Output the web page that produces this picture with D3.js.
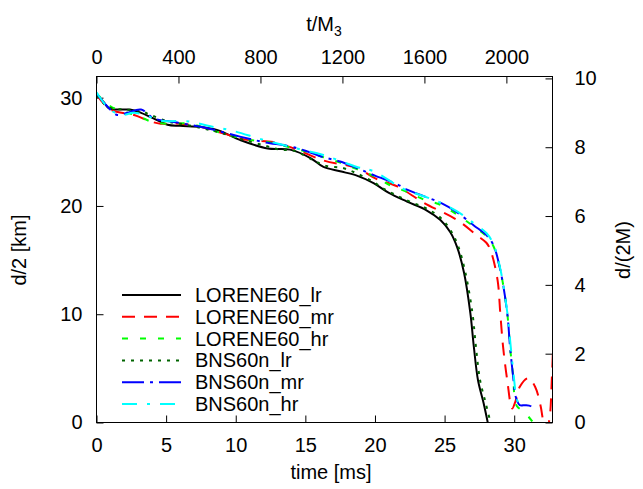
<!DOCTYPE html>
<html><head><meta charset="utf-8">
<script src="https://cdn.jsdelivr.net/npm/d3@7"></script>
<style>
html,body{margin:0;padding:0;background:#fff;}
text{font-family:"Liberation Sans",Arial,sans-serif;font-size:20px;fill:#000;}
</style></head>
<body>
<svg id="chart" width="643" height="489"></svg>
<script>
// ---- data (time [ms], d/2 [km]) ----
const seriesNames = ["LORENE60_lr","LORENE60_mr","LORENE60_hr","BNS60n_lr","BNS60n_mr","BNS60n_hr"];
const lorene60_lr = [[0,30.3],[0.5,29.6],[0.9,29.0],[1.5,28.9],[2.4,28.9],[3.2,28.6],[3.9,28.2],[5.1,27.5],[6.0,27.4],[7.5,27.3],[8.7,27.0],[10.3,26.1],[12.3,25.3],[13.9,25.2],[15.4,24.4],[16.3,23.6],[17.5,23.2],[18.7,22.8],[19.9,22.1],[21.0,21.2],[22.3,20.4],[23.7,19.6],[24.7,18.7],[25.4,17.6],[25.9,16.2],[26.4,13.8],[26.85,10.1],[27.1,7.0],[27.4,3.9],[27.8,1.8],[28.1,0]];
const lorene60_mr = [[0,30.3],[1.0,28.9],[2.7,28.4],[3.9,27.8],[4.6,27.6],[6.0,27.6],[7.5,27.3],[9.1,26.7],[10.8,26.1],[12.7,25.9],[14.2,25.3],[16.3,24.2],[18.7,23.5],[20.1,22.5],[21.6,21.8],[23.5,20.3],[25.9,18.7],[27.3,17.3],[28.0,16.6],[28.3,15.9],[28.8,13.2],[29.0,10.1],[29.2,7.0],[29.5,3.9],[29.85,1.3],[30.1,2.0],[30.4,3.3],[31.0,4.1],[31.5,3.3],[31.9,1.5],[32.1,0.1],[32.35,-0.6],[32.55,0.5],[32.7,4.0],[32.85,9.0]];
const lorene60_hr = [[0,30.4],[1.0,29.2],[2.0,28.7],[3.0,28.3],[3.9,27.8],[5.0,27.6],[6.7,27.6],[8.0,27.1],[9.6,26.5],[11.0,26.1],[12.3,25.9],[13.6,25.5],[15.1,25.0],[16.3,24.5],[17.5,24.0],[18.7,23.4],[20.0,22.7],[21.1,21.9],[22.3,21.3],[23.5,20.6],[24.7,20.1],[25.9,19.2],[27.1,18.1],[28.0,17.2],[28.5,16.3],[29.0,14.1],[29.5,10.1],[29.7,7.0],[29.95,3.9],[30.0,2.7],[30.2,1.5],[30.7,1.0],[31.3,0.1]];
const bns60n_lr = [[0,30.2],[0.9,29.1],[2.0,28.9],[3.1,28.8],[3.9,28.4],[5.1,27.8],[6.0,27.6],[7.5,27.2],[8.8,26.8],[10.3,26.2],[12.0,25.6],[13.2,25.2],[14.2,25.1],[15.6,24.2],[16.5,23.7],[17.7,23.5],[18.7,23.0],[19.9,22.2],[20.6,21.6],[21.5,21.0],[22.5,20.4],[23.8,19.7],[24.8,18.8],[25.5,17.6],[26.0,16.2],[26.5,13.8],[27.0,10.1],[27.25,7.0],[27.55,3.9],[27.95,1.8],[28.3,0]];
const bns60n_mr = [[0,30.4],[0.7,29.3],[1.5,28.4],[2.2,28.6],[3.2,28.9],[4.1,28.1],[5.8,27.7],[7.9,27.2],[10.3,26.4],[12.0,25.9],[13.9,25.5],[15.0,25.1],[16.3,24.5],[17.5,24.1],[18.7,23.5],[20.0,22.8],[21.6,22.0],[22.3,21.5],[23.5,20.9],[24.7,20.3],[25.9,19.4],[27.1,18.2],[28.0,17.3],[28.5,16.4],[29.0,14.1],[29.5,10.1],[29.7,7.0],[29.95,3.9],[30.1,2.4],[30.4,1.6],[30.8,1.6],[31.2,1.5],[31.4,1.2]];
const bns60n_hr = [[0,30.5],[0.6,29.4],[1.2,28.7],[1.9,28.4],[2.6,28.6],[3.5,28.4],[4.5,27.9],[6.7,27.8],[8.0,27.4],[9.6,27.0],[12.0,26.1],[14.4,25.3],[16.3,24.7],[18.7,23.6],[19.9,23.2],[22.0,21.6],[23.5,20.9],[24.7,20.3],[25.9,19.5],[27.1,18.4],[28.0,17.5],[28.5,16.5],[29.0,14.2],[29.5,10.2],[29.75,7.0],[30.0,3.9],[30.15,2.3],[30.3,1.8]];

const xTicks = [0,5,10,15,20,25,30];
const x2Ticks = [0,400,800,1200,1600,2000];
const yTicks = [0,10,20,30];
const y2Ticks = [0,2,4,6,8,10];

// ---- styles ----
const styles = [
  {color:"#000000", dash:null},
  {color:"#ff0000", dash:"13,9"},
  {color:"#00ff00", dash:"6,12"},
  {color:"#006400", dash:"3,6"},
  {color:"#0000ff", dash:"22,6,3,6"},
  {color:"#00ffff", dash:"15,10,3,10"}
];
const allData = [lorene60_lr, lorene60_mr, lorene60_hr, bns60n_lr, bns60n_mr, bns60n_hr];

const L = 96.5, R = 552.5, T = 76.5, B = 422.5;
const svg = d3.select("#chart");

const x = d3.scaleLinear().domain([0, 32.75]).range([L, R]);
const x2 = d3.scaleLinear().domain([0, 2225]).range([L, R]);
const y = d3.scaleLinear().domain([0, 32]).range([B, T - 0.5]);
const y2 = d3.scaleLinear().domain([0, 10.07]).range([B, T - 0.5]);

svg.append("defs").append("clipPath").attr("id","clip")
  .append("rect").attr("x", L).attr("y", T).attr("width", R - L).attr("height", B - T);

function styleAxis(g){
  g.select(".domain").remove();
  g.selectAll(".tick line").attr("stroke","#000").attr("stroke-width",1);
  g.selectAll(".tick text").attr("font-family","Liberation Sans, Arial, sans-serif").attr("font-size",20).attr("fill","#000");
}

svg.append("g").attr("transform",`translate(0,${B})`)
  .call(d3.axisBottom(x).tickValues(xTicks).tickSize(-7).tickPadding(15).tickFormat(d3.format("d")))
  .call(styleAxis);
svg.append("g").attr("transform",`translate(0,${T})`)
  .call(d3.axisTop(x2).tickValues(x2Ticks).tickSize(-7).tickPadding(13).tickFormat(d3.format("d")))
  .call(styleAxis);
svg.append("g").attr("transform",`translate(${L},0)`)
  .call(d3.axisLeft(y).tickValues(yTicks).tickSize(-7).tickPadding(14).tickFormat(d3.format("d")))
  .call(styleAxis);
svg.append("g").attr("transform",`translate(${R},0)`)
  .call(d3.axisRight(y2).tickValues(y2Ticks).tickSize(-7).tickPadding(22).tickFormat(d3.format("d")))
  .call(styleAxis);

// lines
const line = d3.line().x(d => x(d[0])).y(d => y(d[1])).curve(d3.curveCatmullRom.alpha(0.5));
const plot = svg.append("g").attr("clip-path","url(#clip)");
allData.forEach((data, i) => {
  plot.append("path").datum(data)
    .attr("d", line)
    .attr("fill","none")
    .attr("stroke", styles[i].color)
    .attr("stroke-width", 2)
    .attr("stroke-dasharray", styles[i].dash);
});

// frame
svg.append("rect").attr("x", L).attr("y", T).attr("width", R - L).attr("height", B - T)
  .attr("fill","none").attr("stroke","#000").attr("stroke-width",1);

// legend
const legY0 = 295, legDy = 21.8;
seriesNames.forEach((name, i) => {
  const yy = legY0 + i * legDy;
  svg.append("line").attr("x1",122).attr("x2",181).attr("y1",yy).attr("y2",yy)
    .attr("stroke", styles[i].color).attr("stroke-width",2).attr("stroke-dasharray", styles[i].dash);
  svg.append("text").attr("x",195).attr("y",yy).attr("dy","0.35em").text(name);
});

// axis titles
svg.append("text").attr("x",331).attr("y",479).attr("text-anchor","middle").text("time [ms]");
const tt = svg.append("text").attr("x",324).attr("y",31).attr("text-anchor","middle");
tt.append("tspan").text("t/M");
tt.append("tspan").attr("dy",5).attr("font-size",14).text("3");
svg.append("text").attr("transform","translate(26,250) rotate(-90)").attr("text-anchor","middle").text("d/2 [km]");
svg.append("text").attr("transform","translate(630,250) rotate(-90)").attr("text-anchor","middle").text("d/(2M)");
</script>
</body></html>
